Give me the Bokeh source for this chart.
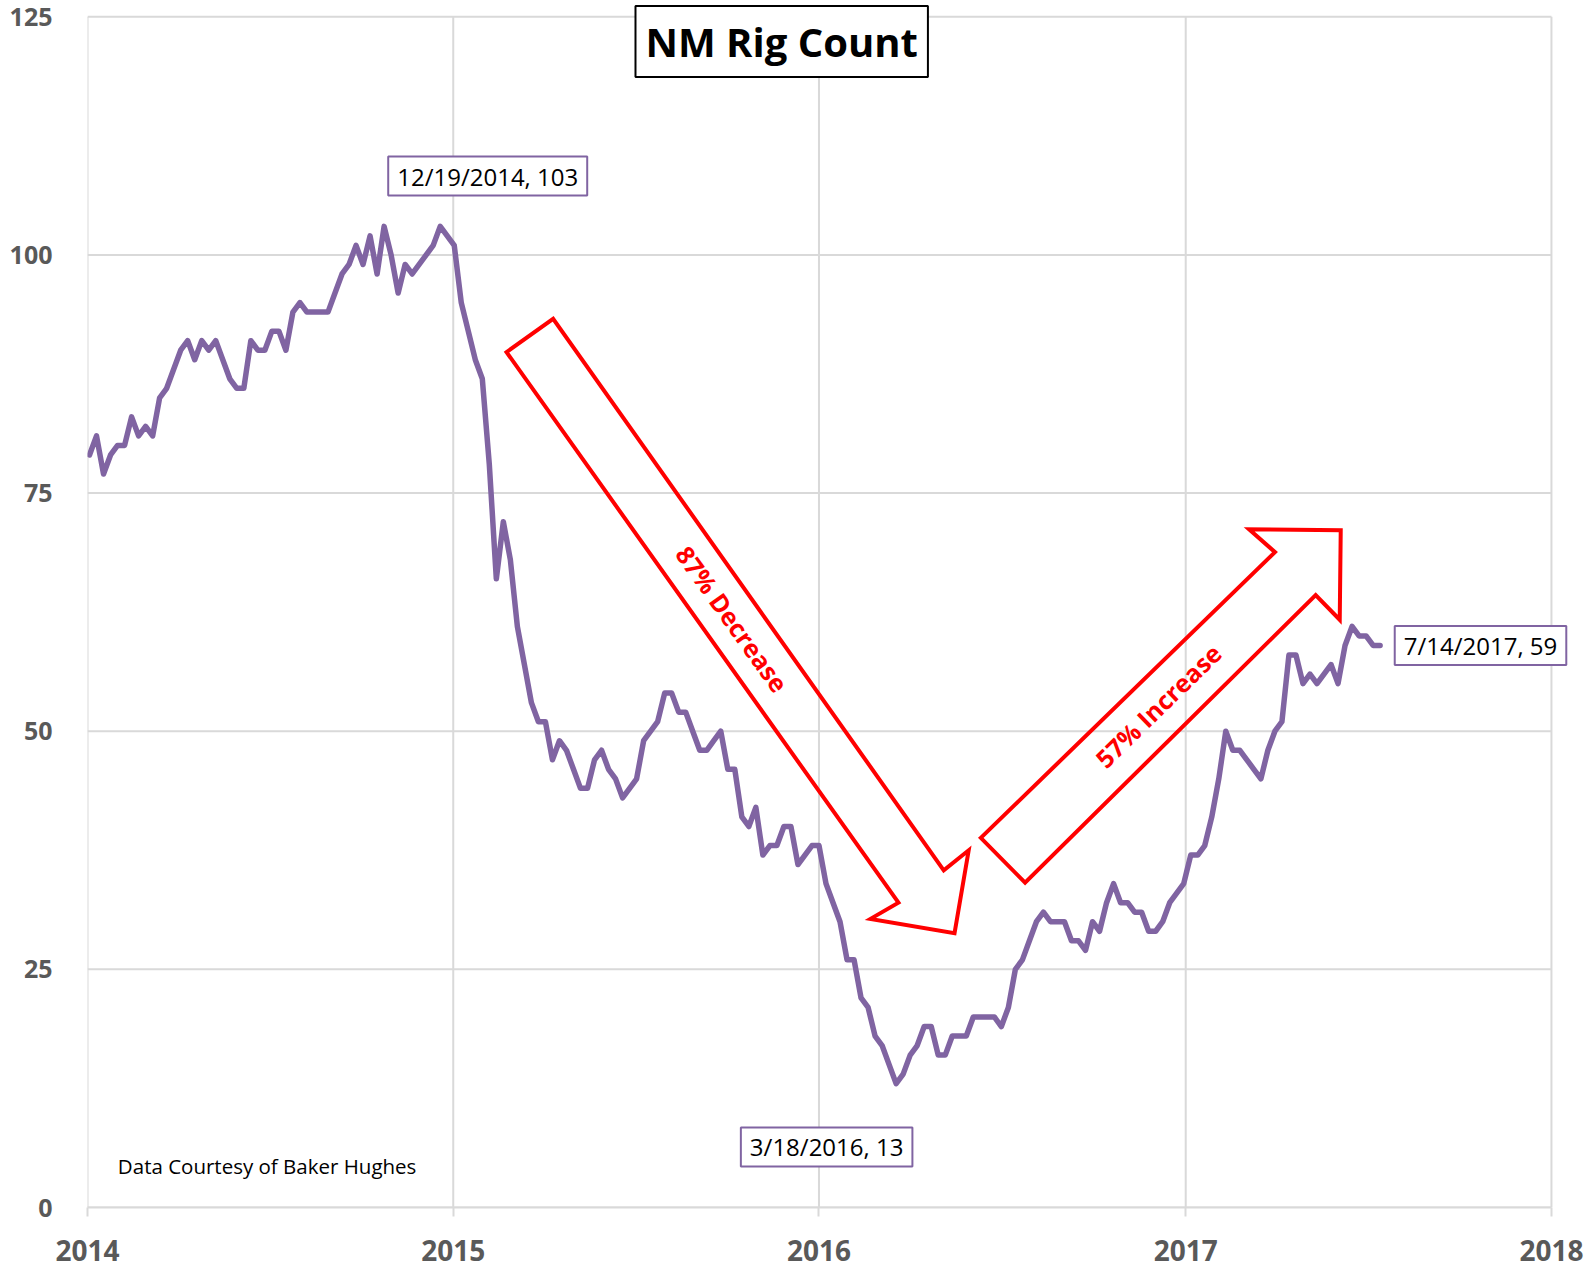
import pandas as pd
from bokeh.plotting import figure
from bokeh.models import Range1d, FixedTicker, DatetimeTickFormatter, Label, ColumnDataSource
from bokeh.embed import file_html
from bokeh.resources import INLINE

# Weekly New Mexico rig counts (Baker Hughes), Fridays starting 2014-01-03
first_week = "2014-01-03"
rigs_2014 = [79, 81, 77, 79, 80, 80, 83, 81, 82, 81, 85, 86, 88, 90, 91, 89, 91, 90, 91, 89,
             87, 86, 86, 91, 90, 90, 92, 92, 90, 94, 95, 94, 94, 94, 94, 96, 98, 99, 101, 99,
             102, 98, 103, 100, 96, 99, 98, 99, 100, 101, 103, 102]
rigs_2015 = [101, 95, 92, 89, 87, 78, 66, 72, 68, 61, 57, 53, 51, 51, 47, 49, 48, 46, 44, 44,
             47, 48, 46, 45, 43, 44, 45, 49, 50, 51, 54, 54, 52, 52, 50, 48, 48, 49, 50, 46,
             46, 41, 40, 42, 37, 38, 38, 40, 40, 36, 37, 38]
rigs_2016 = [38, 34, 32, 30, 26, 26, 22, 21, 18, 17, 15, 13, 14, 16, 17, 19, 19, 16, 16, 18,
             18, 18, 20, 20, 20, 20, 19, 21, 25, 26, 28, 30, 31, 30, 30, 30, 28, 28, 27, 30,
             29, 32, 34, 32, 32, 31, 31, 29, 29, 30, 32, 33, 34]
rigs_2017 = [37, 37, 38, 41, 45, 50, 48, 48, 47, 46, 45, 48, 50, 51, 58, 58, 55, 56, 55, 56,
             57, 55, 59, 61, 60, 60, 59, 59]

year_ticks = ["2014-01-01", "2015-01-01", "2016-01-01", "2017-01-01", "2018-01-01"]
value_ticks = [0, 25, 50, 75, 100, 125]

title_text = "NM Rig Count"
source_text = "Data Courtesy of Baker Hughes"
decrease_text = "87% Decrease"
increase_text = "57% Increase"

# Block-arrow outlines (days after 2014-01-01, rig count)
origin = pd.Timestamp("2014-01-01")
decrease_days = [418.2, 464.7, 854.5, 879.4, 865.3, 781.4, 809.3]
decrease_vals = [89.8, 93.3, 35.4, 37.5, 28.8, 30.3, 32.0]
increase_days = [891.5, 1185.1, 1159.2, 1250.7, 1249.7, 1225.7, 935.7]
increase_vals = [38.8, 68.8, 71.2, 71.1, 61.7, 64.3, 34.1]

rigs = rigs_2014 + rigs_2015 + rigs_2016 + rigs_2017
dates = pd.date_range(first_week, periods=len(rigs), freq="7D")


def ms(ts):
    return pd.Timestamp(ts).value / 1e6


def day_ms(d):
    return (origin + pd.to_timedelta(d, unit="D")).value / 1e6


year_ms = [ms(t) for t in year_ticks]
DAY = 86400000.0

PURPLE = "#8064A2"
GRID = "#D9D9D9"
LABEL_GRAY = "#595959"
FONT = "Open Sans"

# the frame extends a little past 2018 / 125 so that the boxed labels are not clipped
p = figure(width=1589, height=1270, x_axis_type="datetime",
           x_range=Range1d(year_ms[0], year_ms[-1] + 20 * DAY), y_range=Range1d(0, 126.5),
           output_backend="svg", toolbar_location=None,
           min_border_left=87, min_border_right=18, min_border_top=2, min_border_bottom=63)
p.outline_line_color = None
p.background_fill_color = "white"
p.border_fill_color = "white"
p.grid.visible = False

fmt = "%Y"
p.xaxis.ticker = FixedTicker(ticks=year_ms)
p.xaxis.formatter = DatetimeTickFormatter(milliseconds=fmt, seconds=fmt, minsec=fmt, minutes=fmt,
                                          hourmin=fmt, hours=fmt, days=fmt, months=fmt, years=fmt)
p.xaxis.bounds = (year_ms[0], year_ms[-1])
p.xaxis.major_label_text_font = FONT
p.xaxis.major_label_text_font_size = "28px"
p.xaxis.major_label_text_font_style = "bold"
p.xaxis.major_label_text_color = LABEL_GRAY
p.xaxis.axis_line_color = GRID
p.xaxis.axis_line_width = 2
p.xaxis.major_tick_line_color = GRID
p.xaxis.major_tick_line_width = 2
p.xaxis.major_tick_out = 9
p.xaxis.major_tick_in = 0
p.xaxis.minor_tick_line_color = None
p.xaxis.major_label_standoff = 23

p.yaxis.ticker = FixedTicker(ticks=value_ticks)
p.yaxis.bounds = (0, 125)
p.yaxis.axis_line_color = None
p.yaxis.major_tick_line_color = None
p.yaxis.minor_tick_line_color = None
p.yaxis.major_tick_out = 0
p.yaxis.major_tick_in = 0
p.yaxis.major_label_standoff = 35
p.yaxis.major_label_text_font = FONT
p.yaxis.major_label_text_font_size = "25px"
p.yaxis.major_label_text_font_style = "bold"
p.yaxis.major_label_text_color = LABEL_GRAY

# Grid lines limited to 2014-2018 and 0-125
n_y = len(value_ticks)
n_x = len(year_ms)
p.segment(x0=year_ms, x1=year_ms, y0=[value_ticks[0]] * n_x, y1=[value_ticks[-1]] * n_x,
          line_color=GRID, line_width=2, level="underlay")
p.segment(x0=[year_ms[0]] * n_y, x1=[year_ms[-1]] * n_y, y0=value_ticks, y1=value_ticks,
          line_color=GRID, line_width=2, level="underlay")

src = ColumnDataSource(dict(date=dates, rigs=rigs))
p.line(x="date", y="rigs", source=src, line_color=PURPLE, line_width=5.5,
       line_join="round", line_cap="round")

# Arrows
p.patch(x=[day_ms(d) for d in decrease_days], y=decrease_vals, fill_alpha=0,
        line_color="#FF0000", line_width=4, line_join="miter")
p.patch(x=[day_ms(d) for d in increase_days], y=increase_vals, fill_alpha=0,
        line_color="#FF0000", line_width=4, line_join="miter")

p.add_layout(Label(x=day_ms(643.6), y=61.8, text=decrease_text, angle=-54.5, angle_units="deg",
                   text_color="#FF0000", text_font=FONT, text_font_style="bold",
                   text_font_size="25px", text_align="center", text_baseline="middle"))
p.add_layout(Label(x=day_ms(1068.4), y=52.7, text=increase_text, angle=44.2, angle_units="deg",
                   text_color="#FF0000", text_font=FONT, text_font_style="bold",
                   text_font_size="25px", text_align="center", text_baseline="middle"))

# Data labels: peak (latest max), trough, last
i_max = max(range(len(rigs)), key=lambda i: (rigs[i], i))
i_min = min(range(len(rigs)), key=lambda i: rigs[i])
i_last = len(rigs) - 1


def data_label(i, dx, dy):
    d = dates[i]
    txt = f"{d.month}/{d.day}/{d.year}, {rigs[i]}"
    p.add_layout(Label(x=ms(d), y=rigs[i], x_offset=dx, y_offset=dy, text=txt,
                       text_font=FONT, text_font_size="24px", text_color="black",
                       text_align="center", text_baseline="middle",
                       background_fill_color="white", border_line_color=PURPLE,
                       border_line_width=2, padding=(9, 3)))


data_label(i_max, 47.5, 50.3)
data_label(i_min, -69.5, -63.3)
data_label(i_last, 100.4, 0)

p.add_layout(Label(x=day_ms(30.3), y=4.4, text=source_text, text_font=FONT,
                   text_font_size="20.5px", text_color="black", text_align="left",
                   text_baseline="middle"))

p.add_layout(Label(x=day_ms(692.8), y=122.4, text=title_text, text_font=FONT,
                   text_font_size="40px", text_font_style="bold", text_color="black",
                   text_align="center", text_baseline="middle",
                   background_fill_color="white", border_line_color="black",
                   border_line_width=2, padding=(10, 8)))

open("out.html", "w").write(file_html(p, INLINE))
